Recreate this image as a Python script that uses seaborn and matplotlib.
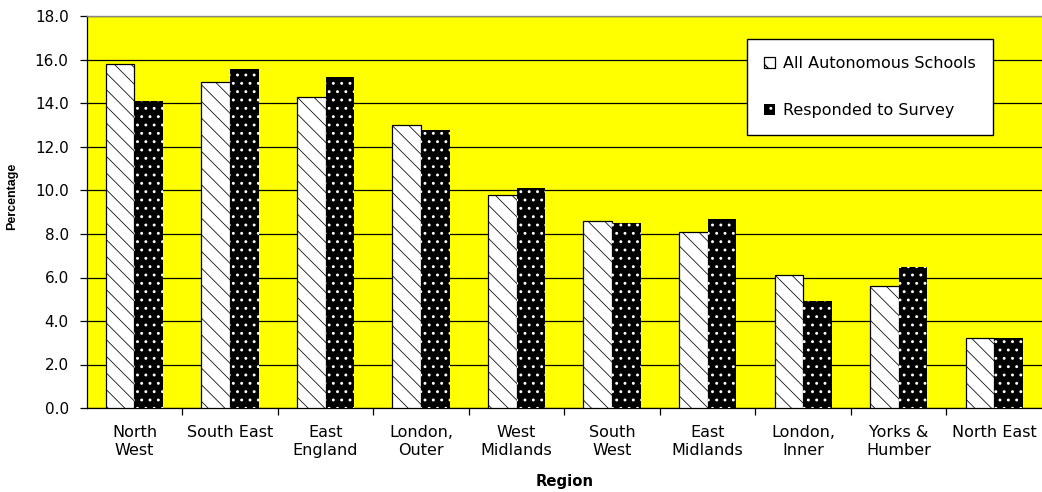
import matplotlib
matplotlib.use("Agg")
import matplotlib.pyplot as plt
from matplotlib.patches import Patch
from matplotlib.ticker import FixedLocator, FormatStrFormatter
import seaborn as sns
import pandas as pd

# Share of schools by region (%)
regions = ["North\nWest", "South East", "East\nEngland", "London,\nOuter", "West\nMidlands",
           "South\nWest", "East\nMidlands", "London,\nInner", "Yorks &\nHumber", "North East"]
all_schools = [15.8, 15.0, 14.3, 13.0, 9.8, 8.6, 8.1, 6.1, 5.6, 3.2]
responded = [14.1, 15.6, 15.2, 12.8, 10.1, 8.5, 8.7, 4.9, 6.5, 3.2]
series_names = ["All Autonomous Schools", "Responded to Survey"]
y_ticks = [0, 2, 4, 6, 8, 10, 12, 14, 16, 18]

df = pd.DataFrame({
    "Region": regions * 2,
    "Percentage": all_schools + responded,
    "Series": [series_names[0]] * len(regions) + [series_names[1]] * len(regions),
})

sns.set_style("white")
plt.rcParams["font.family"] = ["DejaVu Sans"]
plt.rcParams["hatch.linewidth"] = 0.9
for key in ["text.color", "axes.labelcolor", "xtick.color", "ytick.color"]:
    plt.rcParams[key] = "black"

fig = plt.figure(figsize=(10.42, 4.92), dpi=100, facecolor="white")
ax = fig.add_axes([86.7 / 1042, 1 - 408 / 492, (1042 - 86.7) / 1042, (408 - 16.5) / 492])
ax.set_facecolor("#FFFF00")

sns.barplot(data=df, x="Region", y="Percentage", hue="Series",
            palette=["white", "black"], width=0.6, saturation=1,
            errorbar=None, legend=False, ax=ax, zorder=3)

light_style = dict(facecolor="white", hatch="\\\\", edgecolor="black", linewidth=0.9)
dark_style = dict(facecolor="black", hatch="..", edgecolor="white", linewidth=0)


def style_light(patch):
    patch.set(**light_style)
    # thin hatching and a grey outline, where the patch API supports it
    if hasattr(patch, "set_hatch_linewidth"):
        patch.set_hatch_linewidth(0.55)
    if hasattr(patch, "set_hatchcolor"):
        patch.set_hatchcolor("black")
        patch.set_edgecolor("#7f7f7f")


for bar in ax.containers[0]:
    style_light(bar)
for bar in ax.containers[1]:
    bar.set(**dark_style)

# axes
ax.set_ylim(0, 18)
ax.set_xlim(-0.5, len(regions) - 0.5)
ax.yaxis.set_major_locator(FixedLocator(y_ticks))
ax.yaxis.set_major_formatter(FormatStrFormatter("%.1f"))
ax.yaxis.grid(True, color="black", linewidth=0.9, zorder=1)
ax.set_axisbelow(True)

ax.xaxis.set_major_locator(FixedLocator([i + 0.5 for i in range(len(regions) - 1)]))
ax.xaxis.set_major_formatter(plt.NullFormatter())
ax.set_xticks(range(len(regions)), minor=True)
ax.set_xticklabels(regions, minor=True, fontsize=11.5, linespacing=1.3)
ax.tick_params(axis="x", which="major", length=5, width=0.9, color="black", direction="out", bottom=True)
ax.tick_params(axis="x", which="minor", length=0, pad=12)
ax.tick_params(axis="y", length=5, width=0.9, color="black", direction="out", left=True, pad=8,
               labelsize=11)

for s in ["left", "bottom"]:
    ax.spines[s].set_color("black")
    ax.spines[s].set_linewidth(0.9)
ax.spines["top"].set_color("#888888")
ax.spines["top"].set_linewidth(1.0)
ax.spines["right"].set_visible(False)

ax.set_xlabel("Region", fontsize=10.7, fontweight="bold")
ax.set_ylabel("Percentage", fontsize=9, fontweight="bold", family=["Liberation Sans"])
ax.xaxis.set_label_coords(0.5, -0.168)
ax.yaxis.set_label_coords(-0.072, 0.54)

legend_light = Patch(facecolor="white", hatch="\\", edgecolor="black", linewidth=0.9)
handles = [legend_light, Patch(**dark_style)]
leg = fig.legend(handles, series_names, loc="upper left",
                 bbox_to_anchor=(747.3 / 1042, 1 - 39.3 / 492),
                 fontsize=11.5, frameon=True, fancybox=False, framealpha=1,
                 edgecolor="black", facecolor="white", handlelength=0.7, handleheight=0.7,
                 handletextpad=0.5, labelspacing=2.0, borderpad=1.05, borderaxespad=0)
leg.get_frame().set_linewidth(1.0)

fig.savefig("out.png", dpi=100, facecolor="white")
